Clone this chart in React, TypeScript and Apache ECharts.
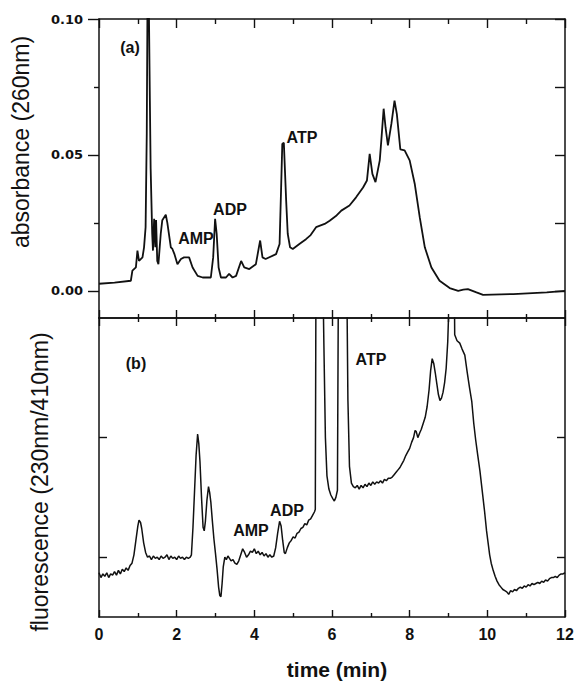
import React, { useEffect, useRef } from "react";
import * as echarts from "echarts";

// time (min)
const xTicks = [0, 2, 4, 6, 8, 10, 12];
const absTickLabels = [0, 0.05, 0.1];
const absMinorTicks = [0.025, 0.075];
const fluoTicks = [50, 150];

// (a) absorbance at 260 nm: [time, absorbance]
const absorbance: [number, number][] = [
  [0, 0.0026], [0.4, 0.003], [0.82, 0.0037], [0.86, 0.0074], [0.95, 0.0086], [0.99, 0.0148],
  [1.03, 0.011], [1.12, 0.0123], [1.16, 0.016], [1.2, 0.0234], [1.23, 0.058], [1.25, 0.11],
  [1.28, 0.11], [1.31, 0.07], [1.33, 0.045], [1.37, 0.021], [1.39, 0.0148], [1.42, 0.0265],
  [1.45, 0.016], [1.47, 0.026], [1.5, 0.011], [1.53, 0.0098], [1.59, 0.021], [1.63, 0.026],
  [1.72, 0.028], [1.76, 0.025], [1.85, 0.016], [1.89, 0.0154], [1.94, 0.0136], [2.02, 0.0098],
  [2.11, 0.0117], [2.19, 0.0123], [2.32, 0.0123], [2.41, 0.0086], [2.54, 0.0055], [2.67, 0.0049],
  [2.88, 0.0049], [2.94, 0.0123], [2.99, 0.0265], [3.03, 0.021], [3.08, 0.0086], [3.14, 0.0049],
  [3.27, 0.0049], [3.35, 0.0062], [3.44, 0.0049], [3.53, 0.0055], [3.66, 0.011], [3.74, 0.0086],
  [3.87, 0.008], [4.04, 0.0098], [4.11, 0.0154], [4.15, 0.0185], [4.21, 0.0123], [4.29, 0.0117],
  [4.56, 0.0135], [4.65, 0.0172], [4.69, 0.038], [4.72, 0.054], [4.76, 0.0545], [4.82, 0.033],
  [4.86, 0.021], [4.92, 0.016], [4.99, 0.0154], [5.16, 0.0172], [5.33, 0.019], [5.45, 0.0205],
  [5.59, 0.0234], [5.81, 0.0246], [5.94, 0.0258], [6.1, 0.0275], [6.24, 0.0295], [6.45, 0.0314],
  [6.62, 0.0344], [6.8, 0.038], [6.9, 0.0406], [6.97, 0.0504], [7.04, 0.043], [7.12, 0.04],
  [7.23, 0.048], [7.27, 0.0553], [7.33, 0.067], [7.38, 0.06], [7.44, 0.0535], [7.53, 0.0615],
  [7.61, 0.07], [7.67, 0.065], [7.76, 0.052], [7.87, 0.0517], [8.0, 0.048], [8.13, 0.0394],
  [8.26, 0.027], [8.39, 0.016], [8.56, 0.0086], [8.77, 0.0037], [9.03, 0.001], [9.25, 0.0],
  [9.38, 0.0004], [9.5, 0.0006], [9.72, -0.0006], [9.89, -0.0015], [10.67, -0.0012],
  [11.53, -0.0006], [12, 0.0]
];

// (b) fluorescence 230nm/410nm (arbitrary units): [time, signal]
const fluorescence: [number, number][] = [
  [0.0, 37], [0.05, 33], [0.1, 36], [0.15, 34], [0.2, 37], [0.25, 33], [0.3, 36], [0.35, 35],
  [0.4, 38], [0.45, 35], [0.5, 39], [0.55, 36], [0.6, 40], [0.65, 38], [0.7, 41], [0.75, 39],
  [0.8, 43], [0.85, 45], [0.9, 52], [0.95, 64], [1.0, 76], [1.03, 81], [1.07, 79], [1.1, 74],
  [1.15, 62], [1.2, 54], [1.25, 50], [1.3, 51], [1.35, 48], [1.4, 51], [1.45, 49], [1.5, 50],
  [1.55, 48], [1.6, 51], [1.65, 49], [1.7, 50], [1.75, 52], [1.8, 48], [1.85, 51], [1.9, 49],
  [1.95, 50], [2.0, 48], [2.05, 51], [2.1, 49], [2.15, 50], [2.2, 48], [2.25, 50], [2.3, 49],
  [2.35, 50], [2.38, 52], [2.42, 75], [2.46, 105], [2.5, 135], [2.54, 153], [2.57, 145],
  [2.6, 130], [2.64, 100], [2.68, 75], [2.71, 72], [2.74, 80], [2.78, 98], [2.82, 109],
  [2.85, 104], [2.88, 96], [2.92, 80], [2.96, 65], [3.0, 53], [3.04, 40], [3.08, 25], [3.11, 18],
  [3.14, 17], [3.17, 28], [3.2, 42], [3.24, 50], [3.28, 48], [3.32, 51], [3.36, 49], [3.4, 47],
  [3.45, 48], [3.5, 45], [3.55, 44], [3.6, 47], [3.65, 52], [3.7, 57], [3.75, 54], [3.8, 50],
  [3.85, 52], [3.9, 55], [3.95, 54], [4.0, 57], [4.05, 53], [4.1, 55], [4.15, 52], [4.2, 54],
  [4.25, 51], [4.3, 53], [4.35, 50], [4.4, 52], [4.45, 50], [4.5, 51], [4.55, 58], [4.6, 70],
  [4.65, 80], [4.69, 76], [4.73, 64], [4.77, 54], [4.8, 53], [4.85, 58], [4.9, 62], [4.95, 64],
  [5.0, 67], [5.05, 66], [5.1, 70], [5.15, 71], [5.2, 74], [5.25, 75], [5.3, 78], [5.35, 77],
  [5.4, 81], [5.45, 82], [5.5, 85], [5.55, 88], [5.57, 90], [5.59, 320], [5.75, 320],
  [5.79, 230], [5.83, 150], [5.87, 118], [5.92, 107], [5.97, 102], [6.02, 99], [6.06, 97],
  [6.1, 100], [6.14, 106], [6.17, 320], [6.37, 320], [6.41, 181], [6.45, 126], [6.5, 112],
  [6.55, 109], [6.6, 108], [6.65, 110], [6.7, 107], [6.75, 110], [6.8, 108], [6.85, 111],
  [6.9, 109], [6.95, 112], [7.0, 110], [7.05, 113], [7.1, 111], [7.15, 113], [7.2, 112],
  [7.25, 114], [7.3, 112], [7.35, 115], [7.4, 114], [7.45, 116], [7.5, 116], [7.55, 117],
  [7.6, 119], [7.65, 121], [7.7, 123], [7.75, 125], [7.8, 128], [7.85, 131], [7.9, 135],
  [7.95, 138], [8.0, 141], [8.05, 146], [8.1, 150], [8.14, 156], [8.17, 155], [8.21, 150],
  [8.26, 154], [8.3, 157], [8.35, 162], [8.4, 167], [8.45, 176], [8.5, 190], [8.54, 206],
  [8.58, 216], [8.62, 212], [8.66, 204], [8.7, 195], [8.74, 186], [8.78, 181], [8.82, 183],
  [8.86, 188], [8.9, 196], [8.94, 208], [8.98, 230], [9.01, 260], [9.03, 320], [9.14, 320],
  [9.16, 236], [9.22, 231], [9.29, 229], [9.35, 224], [9.42, 219], [9.48, 205], [9.54, 192],
  [9.6, 180], [9.65, 162], [9.7, 148], [9.75, 136], [9.81, 122], [9.87, 105], [9.93, 88],
  [9.98, 72], [10.02, 62], [10.06, 52], [10.1, 45], [10.15, 39], [10.2, 34], [10.25, 30],
  [10.3, 27], [10.35, 25], [10.4, 23], [10.45, 22], [10.5, 21], [10.55, 19], [10.6, 22],
  [10.65, 21], [10.7, 23], [10.75, 22], [10.8, 24], [10.85, 25], [10.9, 24], [10.95, 26],
  [11.0, 25], [11.05, 27], [11.1, 26], [11.15, 28], [11.2, 27], [11.25, 28], [11.3, 29],
  [11.35, 28], [11.4, 30], [11.45, 29], [11.5, 31], [11.55, 30], [11.6, 32], [11.65, 33],
  [11.7, 33], [11.75, 34], [11.8, 33], [11.85, 35], [11.9, 36], [11.95, 36], [12.0, 37]
];

const INK = "#111";

export default function App() {
  const ref = useRef<HTMLDivElement>(null);

  useEffect(() => {
    document.body.style.margin = "0";
    const chart = echarts.init(ref.current!, null, { renderer: "svg" });

    const line = { show: true, onZero: false, lineStyle: { color: INK, width: 1.5 } };
    const tickStyle = { color: INK, width: 1.4 };
    const xBase = (gridIndex: number, position: string, labels: boolean, major: number, minor: number) => ({
      type: "value",
      gridIndex,
      position,
      min: 0,
      max: 12,
      interval: 2,
      axisLine: line,
      axisTick: { show: true, inside: true, length: major, lineStyle: tickStyle },
      minorTick: { show: true, splitNumber: 2, length: minor, lineStyle: tickStyle },
      splitLine: { show: false },
      minorSplitLine: { show: false },
      axisLabel: labels
        ? {
            show: true,
            customValues: xTicks,
            margin: 9,
            color: INK,
            fontFamily: "Liberation Sans",
            fontWeight: "bold",
            fontSize: 16,
          }
        : { show: false },
    });

    const option: any = {
      animation: false,
      backgroundColor: "#fff",
      grid: [
        { left: 99, right: 16, top: 19, height: 299, containLabel: false, outerBoundsMode: "none" },
        { left: 99, right: 16, top: 318, height: 299, containLabel: false, outerBoundsMode: "none" },
      ],
      xAxis: [
        xBase(0, "bottom", false, 8, 4),
        xBase(0, "top", false, 9, 5),
        xBase(1, "top", false, 8, 4),
        xBase(1, "bottom", true, 7, 4),
      ],
      yAxis: [
        {
          type: "value",
          gridIndex: 0,
          position: "left",
          min: -0.01,
          max: 0.1,
          axisLine: line,
          axisTick: { show: true, inside: false, length: 11, customValues: absTickLabels, lineStyle: tickStyle },
          axisLabel: {
            show: true,
            customValues: absTickLabels,
            formatter: (v: number) => v.toFixed(2),
            margin: 16,
            color: INK,
            fontFamily: "DejaVu Sans",
            fontWeight: "bold",
            fontSize: 13,
          },
          splitLine: { show: false },
        },
        {
          type: "value",
          gridIndex: 0,
          position: "left",
          min: -0.01,
          max: 0.1,
          axisLine: { show: false, onZero: false },
          axisTick: { show: true, inside: false, length: 5, customValues: absMinorTicks, lineStyle: tickStyle },
          axisLabel: { show: false },
          splitLine: { show: false },
        },
        {
          type: "value",
          gridIndex: 0,
          position: "right",
          min: -0.01,
          max: 0.1,
          axisLine: line,
          axisTick: {
            show: true,
            inside: true,
            length: 10,
            customValues: [...absTickLabels, ...absMinorTicks],
            lineStyle: tickStyle,
          },
          axisLabel: { show: false },
          splitLine: { show: false },
        },
        {
          type: "value",
          gridIndex: 1,
          position: "left",
          min: 0,
          max: 250,
          axisLine: line,
          axisTick: { show: true, inside: true, length: 8, customValues: fluoTicks, lineStyle: tickStyle },
          axisLabel: { show: false },
          splitLine: { show: false },
        },
        {
          type: "value",
          gridIndex: 1,
          position: "right",
          min: 0,
          max: 250,
          axisLine: line,
          axisTick: { show: true, inside: true, length: 8, customValues: fluoTicks, lineStyle: tickStyle },
          axisLabel: { show: false },
          splitLine: { show: false },
        },
      ],
      series: [
        {
          type: "line",
          xAxisIndex: 0,
          yAxisIndex: 0,
          data: absorbance,
          showSymbol: false,
          symbol: "none",
          clip: true,
          lineStyle: { color: INK, width: 1.8 },
        },
        {
          type: "line",
          xAxisIndex: 3,
          yAxisIndex: 3,
          data: fluorescence,
          showSymbol: false,
          symbol: "none",
          clip: true,
          lineStyle: { color: INK, width: 1.5 },
        },
      ],
      graphic: [
        {
          type: "text",
          x: 21,
          y: 142,
          rotation: Math.PI / 2,
          style: {
            text: "absorbance (260nm)",
            align: "center",
            verticalAlign: "middle",
            fill: INK,
            font: "23px 'Liberation Sans'",
          },
        },
        {
          type: "text",
          x: 40,
          y: 482,
          rotation: Math.PI / 2,
          style: {
            text: "fluorescence (230nm/410nm)",
            align: "center",
            verticalAlign: "middle",
            fill: INK,
            font: "23px 'Liberation Sans'",
          },
        },
        {
          type: "text",
          x: 337,
          y: 669,
          style: {
            text: "time (min)",
            align: "center",
            verticalAlign: "middle",
            fill: INK,
            font: "bold 21px 'Liberation Sans'",
          },
        },
        ...[
          ["(a)", 130, 47],
          ["AMP", 196, 238],
          ["ADP", 230, 209],
          ["ATP", 302, 137],
          ["(b)", 136, 363],
          ["AMP", 251, 530],
          ["ADP", 287, 510],
          ["ATP", 371, 359],
        ].map(([t, x, y]) => ({
          type: "text",
          x,
          y,
          style: {
            text: t,
            align: "center",
            verticalAlign: "middle",
            fill: INK,
            font: "bold 16px 'Liberation Sans'",
          },
        })),
      ],
    };

    chart.setOption(option);
    return () => chart.dispose();
  }, []);

  return <div ref={ref} style={{ width: 581, height: 682, position: "absolute", left: 0, top: 0 }} />;
}
